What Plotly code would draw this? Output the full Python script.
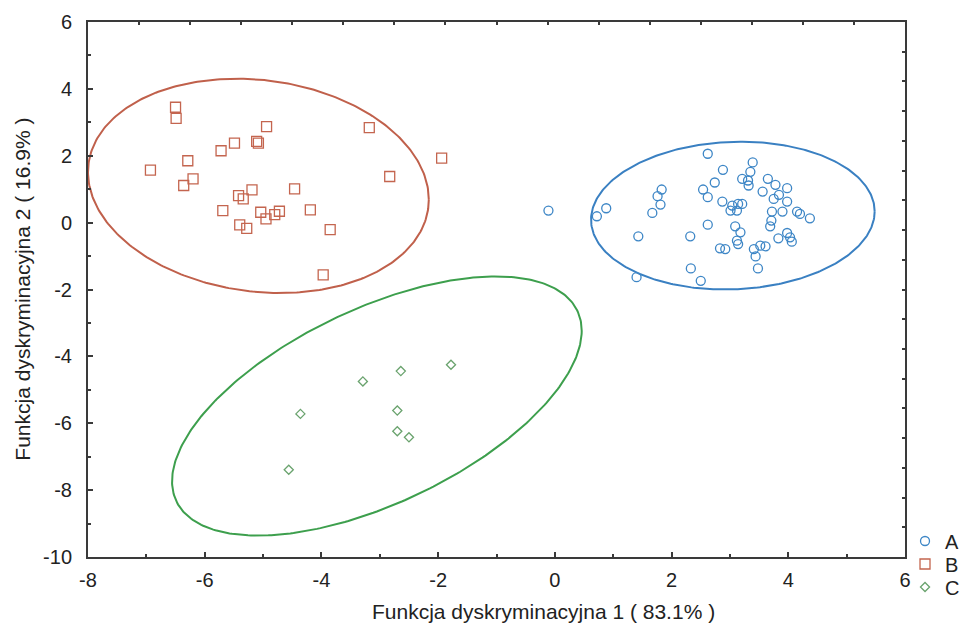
import numpy as np
import plotly.graph_objects as go

# ---- data ----
a_x = [-0.11, 0.72, 0.88, 1.43, 1.40, 1.67, 1.81, 1.76, 1.83, 2.32, 2.33, 2.50, 2.62, 2.54, 2.62,
       2.74, 2.88, 2.62, 2.87, 2.83, 2.92, 3.01, 3.04, 3.14, 3.21, 3.12, 3.39, 3.35, 3.21, 3.31,
       3.32, 3.65, 3.78, 3.98, 3.56, 3.75, 3.84, 3.98, 3.72, 3.90, 4.15, 4.20, 4.37, 3.71, 3.69,
       3.09, 3.18, 3.12, 3.14, 3.83, 3.98, 4.03, 4.06, 3.41, 3.52, 3.61, 3.44, 3.48]
a_y = [0.36, 0.19, 0.43, -0.41, -1.63, 0.29, 0.54, 0.79, 0.99, -0.41, -1.37, -1.74, 2.06, 0.99, 0.76,
       1.20, 1.58, -0.06, 0.63, -0.77, -0.79, 0.36, 0.51, 0.56, 0.56, 0.36, 1.80, 1.52, 1.31, 1.26,
       1.11, 1.31, 1.13, 1.03, 0.93, 0.71, 0.83, 0.63, 0.33, 0.33, 0.33, 0.26, 0.13, 0.06, -0.11,
       -0.11, -0.29, -0.54, -0.64, -0.47, -0.31, -0.44, -0.57, -0.79, -0.69, -0.71, -1.01, -1.37]

b_x = [-6.50, -6.49, -6.93, -6.29, -6.20, -6.36, -5.72, -5.49, -5.11, -5.08, -4.94, -3.18, -1.94, -2.83,
       -4.46, -5.19, -5.42, -5.34, -5.69, -5.04, -4.95, -4.80, -4.72, -4.19, -5.40, -5.28, -3.85, -3.97]
b_y = [3.45, 3.12, 1.57, 1.85, 1.31, 1.11, 2.15, 2.38, 2.43, 2.38, 2.87, 2.84, 1.93, 1.38,
       1.01, 0.98, 0.81, 0.71, 0.36, 0.31, 0.11, 0.24, 0.34, 0.38, -0.07, -0.17, -0.21, -1.56]

c_x = [-3.29, -2.64, -1.78, -4.36, -2.70, -2.70, -2.50, -4.56]
c_y = [-4.75, -4.44, -4.25, -5.72, -5.62, -6.24, -6.42, -7.39]

groups = ["A", "B", "C"]
# confidence ellipses: centre x, centre y, sd x, sd y, correlation
ell_cx = [3.05, -5.08, -3.05]
ell_cy = [0.21, 1.10, -5.485]
ell_sx = [2.43, 2.92, 3.51]
ell_sy = [2.21, 3.205, 3.875]
ell_rho = [0.056, -0.128, 0.581]

x_tickvals = [-8, -6, -4, -2, 0, 2, 4, 6]
x_ticktext = ["-8", "-6", "-4", "-2", "0", "2", "4", "6"]
y_tickvals = [-10, -8, -6, -4, -2, 0, 2, 4, 6]
y_ticktext = ["-10", "-8", "-6", "-4", "-2", "0", "2", "4", "6"]

x_title = "Funkcja dyskryminacyjna 1 ( 83.1% )"
y_title = "Funkcja dyskryminacyjna 2 ( 16.9% )"

# ---- styles ----
pt_colors = ["#3d86c6", "#c4654f", "#6aa36e"]
line_colors = ["#3a80c2", "#c0604b", "#3d9f4d"]
symbols = ["circle-open", "square-open", "diamond-open"]
sizes = [9, 10, 7]
legend_ids = ["legend", "legend2", "legend3"]
legend_y = [0.1403, 0.1032, 0.0661]
FONT = "Arial, Liberation Sans, sans-serif"
TXT = "#222222"
AX = "#3a3a3a"

fig = go.Figure()

t = np.linspace(0, 2 * np.pi, 361)
for i in range(3):
    ex = ell_cx[i] + ell_sx[i] * np.cos(t)
    ey = ell_cy[i] + ell_sy[i] * (ell_rho[i] * np.cos(t) + np.sqrt(1 - ell_rho[i] ** 2) * np.sin(t))
    fig.add_trace(go.Scatter(x=ex, y=ey, mode="lines", line=dict(color=line_colors[i], width=2),
                             showlegend=False, hoverinfo="skip"))

for i, (xs, ys) in enumerate([(a_x, a_y), (b_x, b_y), (c_x, c_y)]):
    fig.add_trace(go.Scatter(x=xs, y=ys, mode="markers", name=groups[i], legend=legend_ids[i],
                             marker=dict(symbol=symbols[i], size=sizes[i], color=pt_colors[i],
                                         line=dict(width=1.3, color=pt_colors[i]))))

# dummy trace for the secondary (tick-only) frame axes
fig.add_trace(go.Scatter(x=[None], y=[None], xaxis="x2", yaxis="y2", showlegend=False, hoverinfo="skip"))

axis_common = dict(showgrid=False, zeroline=False, showline=True, linecolor=AX, linewidth=2,
                   mirror=True, ticks="inside", ticklen=5, tickwidth=1.5, tickcolor=AX,
                   automargin=False, tickmode="array",
                   tickfont=dict(family=FONT, size=20, color=TXT))
minor_common = dict(tickmode="linear", dtick=1, ticks="inside", ticklen=3, tickcolor=AX, tickwidth=1.5)

legend_common = dict(x=0.9219, xref="container", yref="container", xanchor="left", yanchor="middle",
                     bgcolor="rgba(0,0,0,0)", font=dict(family=FONT, size=20, color=TXT), itemwidth=30)

# the page body adds an 8px offset, so the margins are shifted to compensate
fig.update_layout(
    width=973, height=620,
    margin=dict(l=80, r=74, t=14, b=71),
    paper_bgcolor="white", plot_bgcolor="white",
    font=dict(family=FONT, size=20, color=TXT),
    xaxis=dict(range=[-8, 6], tickvals=x_tickvals, ticktext=x_ticktext,
               minor=dict(tick0=-8, **minor_common), ticklabelstandoff=4, **axis_common),
    yaxis=dict(range=[-10, 6], tickvals=y_tickvals, ticktext=y_ticktext,
               minor=dict(tick0=-10, **minor_common), ticklabelstandoff=10, **axis_common),
    xaxis2=dict(overlaying="x", side="top", range=[0, 16], dtick=1, ticks="inside", ticklen=3,
                tickwidth=1.5, tickcolor=AX, showticklabels=False, showgrid=False,
                zeroline=False, showline=False, automargin=False),
    yaxis2=dict(overlaying="y", side="right", range=[0, 18], dtick=1, ticks="inside", ticklen=3,
                tickwidth=1.5, tickcolor=AX, showticklabels=False, showgrid=False,
                zeroline=False, showline=False, automargin=False),
    legend=dict(y=legend_y[0], **legend_common),
    legend2=dict(y=legend_y[1], **legend_common),
    legend3=dict(y=legend_y[2], **legend_common),
    annotations=[
        dict(text=x_title, xref="paper", yref="paper", x=0.558, y=-0.101, xanchor="center",
             yanchor="middle", showarrow=False, font=dict(family=FONT, size=21, color=TXT)),
        dict(text=y_title, xref="paper", yref="paper", x=-0.0806, y=0.5, xanchor="center",
             yanchor="middle", textangle=-90, showarrow=False, font=dict(family=FONT, size=21, color=TXT)),
    ],
    showlegend=True,
)

fig.write_html("out.html")
